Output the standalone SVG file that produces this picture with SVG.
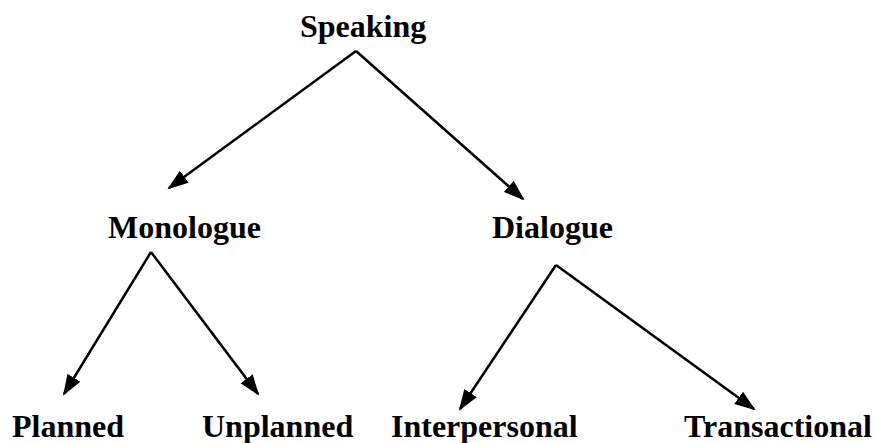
<svg xmlns="http://www.w3.org/2000/svg" width="878" height="443" viewBox="0 0 878 443">
<style>
text{font-family:"Liberation Serif","Times New Roman",serif;font-weight:bold;font-size:32px;fill:#000}
.c line{stroke:#000;stroke-width:2.5;marker-end:url(#ah)}
</style>
<defs>
<marker id="ah" markerUnits="userSpaceOnUse" markerWidth="22" markerHeight="16" refX="19" refY="8" orient="auto" viewBox="0 0 22 16">
<path d="M0,0.5 L21,8 L0,15.5 z" fill="#000"/>
</marker>
</defs>
<rect width="878" height="443" fill="#fff"/>
<g class="c" id="connectors">
<line x1="356" y1="51" x2="169" y2="188"/>
<line x1="356" y1="51" x2="523" y2="199"/>
<line x1="151" y1="252" x2="64" y2="394"/>
<line x1="151" y1="252" x2="258" y2="394"/>
<line x1="556" y1="265" x2="460" y2="409"/>
<line x1="556" y1="265" x2="754" y2="409"/>
</g>
<g id="speaking"><text x="300" y="37">Speaking</text></g>
<g id="monologue"><text x="108" y="238">Monologue</text></g>
<g id="dialogue"><text x="492" y="238">Dialogue</text></g>
<g id="planned"><text x="12" y="437">Planned</text></g>
<g id="unplanned"><text x="202" y="437">Unplanned</text></g>
<g id="interpersonal"><text x="391" y="437">Interpersonal</text></g>
<g id="transactional"><text x="684" y="437">Transactional</text></g>
</svg>
